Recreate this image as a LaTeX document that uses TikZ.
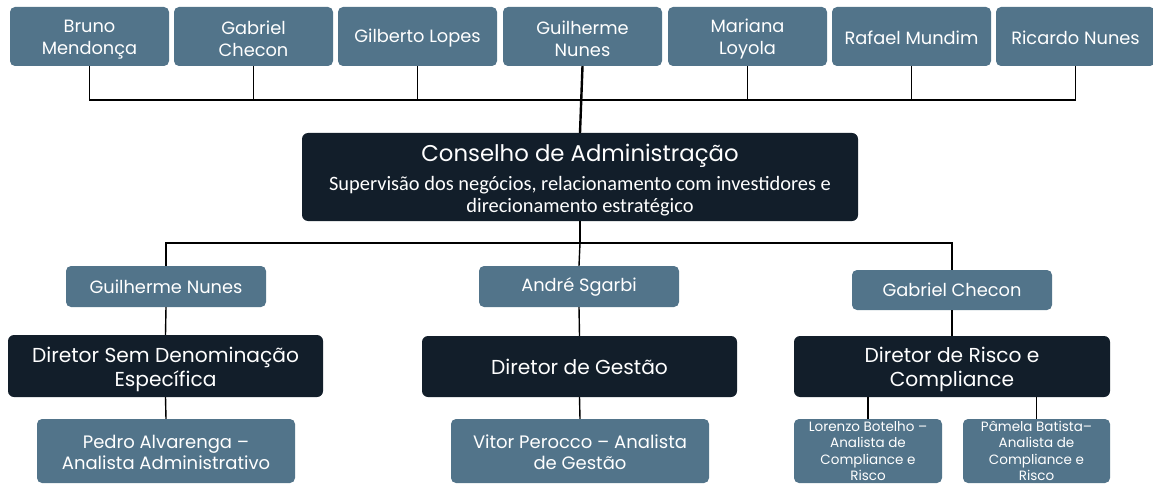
\documentclass[tikz,border=0pt]{standalone}
\usepackage{fontspec}
\setmainfont{Poppins}
\newfontfamily\carl{Carlito}
\definecolor{steel}{HTML}{52748A}
\definecolor{navy}{HTML}{121E2A}
\newcommand\myup[1]{\rule{0pt}{#1pt}}
\begin{document}
\begin{tikzpicture}[x=1pt,y=-1pt,
  person/.style={fill=steel,rounded corners=5pt,text=white,inner sep=0pt,align=center,font=\fontsize{17.8}{22}\selectfont},
  role/.style={fill=navy,rounded corners=6pt,text=white,inner sep=0pt,align=center,font=\fontsize{20.2}{24}\selectfont},
  link/.style={draw=black,line width=1.4pt},
  trunk/.style={draw=black,line width=2.4pt}]
\useasboundingbox (0,0) rectangle (1153,484);
% top row
\foreach \n/\x/\t in {t1/89.5/{\myup{19}Bruno\\Mendonça},t2/253.5/{\myup{19}Gabriel\\Checon},t3/417.5/{\myup{17}Gilberto Lopes},t4/582.5/{\myup{19}Guilherme\\Nunes},t5/747.5/{\myup{19}Mariana\\Loyola},t6/911.5/{\myup{17}Rafael Mundim},t7/1075.5/{\myup{17}Ricardo Nunes}}
  \node[person,minimum width=159pt,minimum height=59pt] (\n) at (\x,36.5) {\t};
\coordinate (bus) at (581,100);
\node[role,minimum width=556pt,minimum height=88pt,font=\carl\fontsize{20.4}{22}\selectfont] (cons) at (580,177) {{\fontspec{Poppins}\fontsize{22.8}{24}\selectfont\myup{24.5}Conselho de Administração}\\[7pt]Supervisão dos negócios, relacionamento com investidores e\\direcionamento estratégico};
\foreach \n in {t1,t2,t3,t5,t6,t7} \draw[link] (\n.south) |- (bus);
\draw[trunk] (t4.south) -- (cons.north);
% second level
\coordinate (bus2) at (580,243);
\node[person,minimum width=200pt,minimum height=41pt] (p1) at (166,286.5) {\myup{15}Guilherme Nunes};
\node[person,minimum width=200pt,minimum height=41pt] (p2) at (579,286.5) {\myup{15}André Sgarbi};
\node[person,minimum width=200pt,minimum height=40pt] (p3) at (952,290) {Gabriel Checon};
\draw[trunk] (cons.south) -- (bus2);
\draw[link] (bus2) -| (p1.north);
\draw[link] (bus2) -| (p3.north);
\draw[link] (bus2) -- (p2.north);
% directors
\node[role,minimum width=315pt,minimum height=62pt] (d1) at (165.5,366) {\myup{22}Diretor Sem Denominação\\Específica};
\node[role,minimum width=315pt,minimum height=61pt] (d2) at (579.5,366.5) {\myup{17}Diretor de Gestão};
\node[role,minimum width=316pt,minimum height=61pt] (d3) at (952,366.5) {\myup{22}Diretor de Risco e\\Compliance};
\draw[link] (p1.south) -- (d1.north);
\draw[link] (p2.south) -- (d2.north);
\draw[link] (p3.south) -- (d3.north);
% bottom
\node[person,minimum width=258pt,minimum height=64pt,font=\fontsize{18}{20.5}\selectfont] (a1) at (166,451) {\myup{16.5}Pedro Alvarenga –\\Analista Administrativo};
\node[person,minimum width=258pt,minimum height=64pt,font=\fontsize{18}{20.5}\selectfont] (a2) at (580,451) {\myup{16.5}Vitor Perocco – Analista\\de Gestão};
\node[person,minimum width=148pt,minimum height=64pt,font=\fontsize{13.5}{16.5}\selectfont] (a3) at (868,451) {Lorenzo Botelho –\\Analista de\\Compliance e\\Risco};
\node[person,minimum width=147pt,minimum height=64pt,font=\fontsize{13.5}{16.5}\selectfont] (a4) at (1036.5,451) {Pâmela Batista–\\Analista de\\Compliance e\\Risco};
\draw[link] (d1.south) -- (a1.north);
\draw[link] (d2.south) -- (a2.north);
\draw[link] (d3.south -| a3.north) -- (a3.north);
\draw[link] (d3.south -| a4.north) -- (a4.north);
\end{tikzpicture}
\end{document}
